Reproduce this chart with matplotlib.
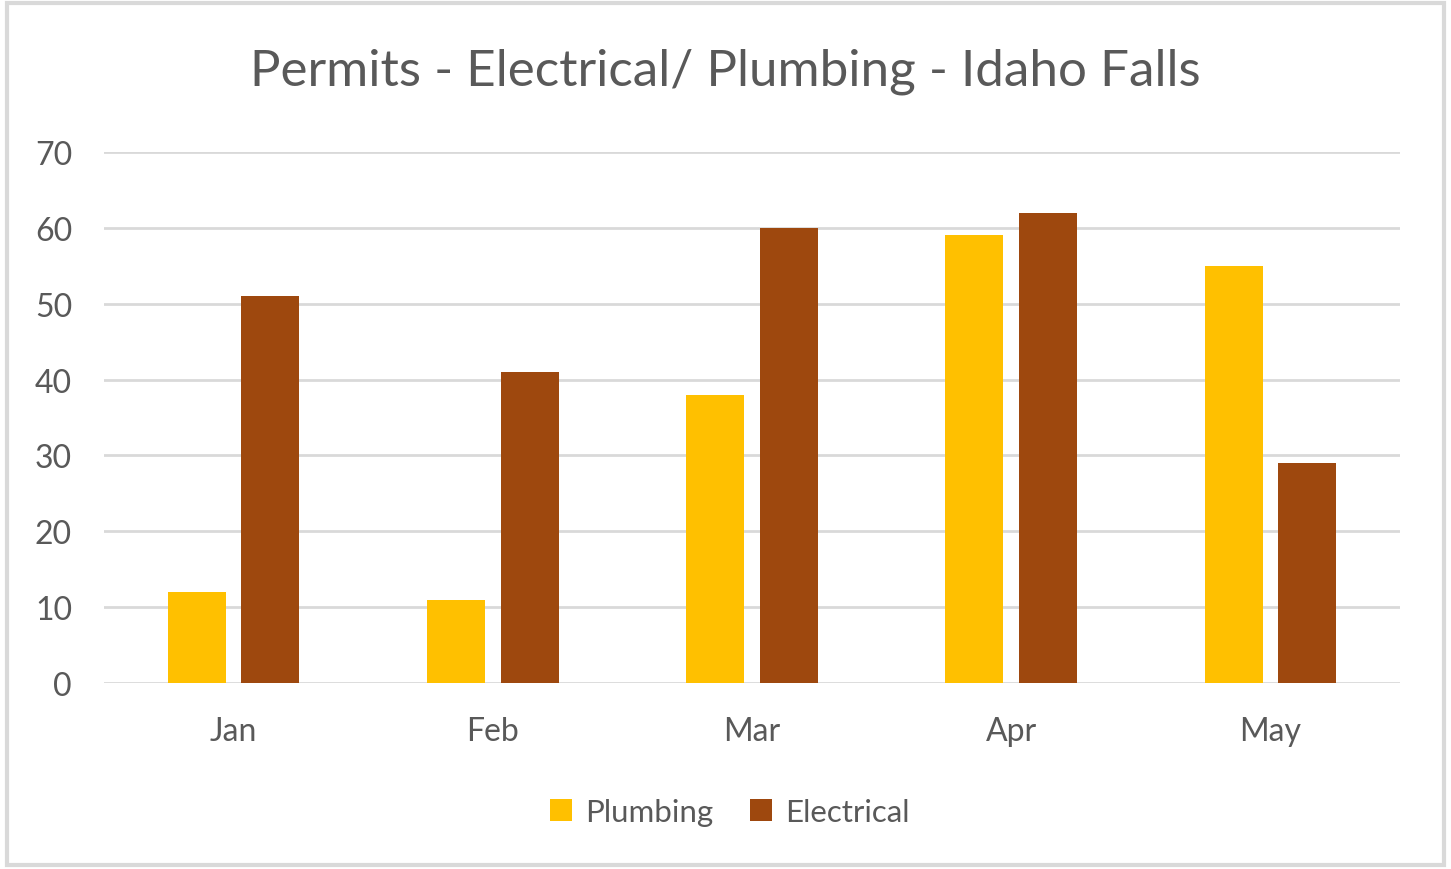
import matplotlib.pyplot as plt
import numpy as np
from matplotlib.patches import Rectangle

plt.rcParams['font.family'] = ['Lato', 'DejaVu Sans']

# Data
months = ['Jan', 'Feb', 'Mar', 'Apr', 'May']
plumbing = [12, 11, 38, 59, 55]
electrical = [51, 41, 60, 62, 29]

text_col = '#595959'
grid_col = '#D9D9D9'

fig = plt.figure(figsize=(14.51, 8.70), dpi=100)
ax = fig.add_axes([0.0717, 0.2138, 0.8932, 0.6103])

x = np.arange(len(months))
w = 0.224
ax.bar(x - 0.142, plumbing, w, color='#FFC000', label='Plumbing', zorder=3)
ax.bar(x + 0.142, electrical, w, color='#9E480E', label='Electrical', zorder=3)

ax.set_xlim(-0.5, len(months) - 0.5)
ax.set_ylim(0, 70)
ax.set_yticks(range(0, 71, 10))
ax.set_xticks(x)
ax.set_xticklabels(months)
ax.yaxis.grid(True, color=grid_col, linewidth=2)
ax.set_axisbelow(True)
for s in ax.spines.values():
    s.set_visible(False)
ax.tick_params(length=0, labelsize=23, labelcolor=text_col)
ax.tick_params(axis='x', pad=24)
ax.tick_params(axis='y', pad=23)

fig.text(0.5, 0.918, 'Permits - Electrical/ Plumbing - Idaho Falls',
         ha='center', va='center', fontsize=36.8, color=text_col)

fig.legend(loc='center', bbox_to_anchor=(0.503, 0.066), ncol=2, frameon=False,
           fontsize=22.5, labelcolor=text_col, handlelength=0.7, handleheight=0.7,
           handletextpad=0.4, columnspacing=1.2)

# outer chart border
fig.patches.append(Rectangle((0.005, 0.005), 0.99, 0.99, transform=fig.transFigure,
                             fill=False, edgecolor='#D9D9D9', linewidth=3))

fig.savefig('out.png', dpi=100)
